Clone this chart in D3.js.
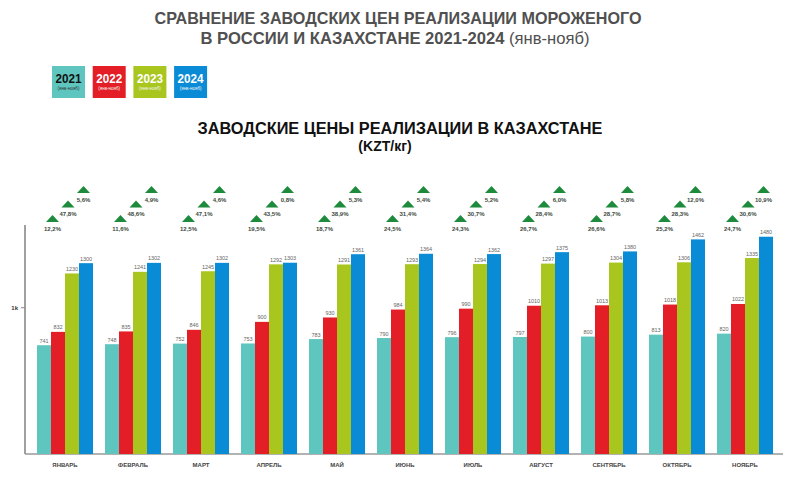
<!DOCTYPE html>
<html>
<head>
<meta charset="utf-8">
<script src="https://cdn.jsdelivr.net/npm/d3@7"></script>
<style>
  body { margin: 0; background: #fff; }
  svg { display: block; font-family: "Liberation Sans", Arial, sans-serif; }
</style>
</head>
<body>
<div id="chart"></div>
<script>
const months = ["ЯНВАРЬ", "ФЕВРАЛЬ", "МАРТ", "АПРЕЛЬ", "МАЙ", "ИЮНЬ", "ИЮЛЬ", "АВГУСТ", "СЕНТЯБРЬ", "ОКТЯБРЬ", "НОЯБРЬ"];
const years = ["2021", "2022", "2023", "2024"];
const v2021 = [741, 748, 752, 753, 783, 790, 796, 797, 800, 813, 820];
const v2022 = [832, 835, 846, 900, 930, 984, 990, 1010, 1013, 1018, 1022];
const v2023 = [1230, 1241, 1245, 1292, 1291, 1293, 1294, 1297, 1304, 1306, 1335];
const v2024 = [1300, 1302, 1302, 1303, 1361, 1364, 1362, 1375, 1380, 1462, 1480];
// прирост год к году: 22/21, 23/22, 24/23
const g22 = ["12,2%", "11,6%", "12,5%", "19,5%", "18,7%", "24,5%", "24,3%", "26,7%", "26,6%", "25,2%", "24,7%"];
const g23 = ["47,8%", "48,6%", "47,1%", "43,5%", "38,9%", "31,4%", "30,7%", "28,4%", "28,7%", "28,3%", "30,6%"];
const g24 = ["5,6%", "4,9%", "4,6%", "0,8%", "5,3%", "5,4%", "5,2%", "6,0%", "5,8%", "12,0%", "10,9%"];
const yTicks = [1000];
const yTickLabels = ["1k"];

const colors = { "2021": "#5ec6bf", "2022": "#e31e26", "2023": "#a9c61f", "2024": "#0a8bd6" };
const series = [v2021, v2022, v2023, v2024];
const growth = [g22, g23, g24];

const width = 800, height = 500;
const svg = d3.select("#chart").append("svg")
  .attr("width", width)
  .attr("height", height);

// titles (узкий шрифт имитируем через textLength)
const title = svg.append("g").attr("fill", "#505050").attr("font-weight", "bold")
  .attr("text-anchor", "middle");
title.append("text").attr("x", 398).attr("y", 24).attr("font-size", 17)
  .attr("textLength", 487).attr("lengthAdjust", "spacingAndGlyphs")
  .text("СРАВНЕНИЕ ЗАВОДСКИХ ЦЕН РЕАЛИЗАЦИИ МОРОЖЕНОГО");
const t2 = title.append("text").attr("x", 395).attr("y", 44).attr("font-size", 17)
  .attr("textLength", 389).attr("lengthAdjust", "spacingAndGlyphs");
t2.append("tspan").text("В РОССИИ И КАЗАХСТАНЕ 2021-2024 ");
t2.append("tspan").attr("font-weight", "normal").text("(янв-нояб)");

svg.append("text").attr("x", 400).attr("y", 134).attr("text-anchor", "middle")
  .attr("font-size", 16).attr("font-weight", "bold").attr("fill", "#111")
  .attr("textLength", 405).attr("lengthAdjust", "spacingAndGlyphs")
  .text("ЗАВОДСКИЕ ЦЕНЫ РЕАЛИЗАЦИИ В КАЗАХСТАНЕ");
svg.append("text").attr("x", 385).attr("y", 151).attr("text-anchor", "middle")
  .attr("font-size", 14).attr("font-weight", "bold").attr("fill", "#111")
  .text("(KZT/кг)");

// legend
const leg = svg.append("g").selectAll("g").data(years).join("g")
  .attr("transform", (d, i) => `translate(${52 + i * 40.7},66)`);
leg.append("rect").attr("width", 33).attr("height", 32).attr("fill", d => colors[d]);
leg.append("text").attr("x", 16.5).attr("y", 17).attr("text-anchor", "middle")
  .attr("font-size", 12).attr("font-weight", "bold")
  .attr("textLength", 26).attr("lengthAdjust", "spacingAndGlyphs")
  .attr("fill", d => d === "2021" ? "#111" : "#fff").text(d => d);
leg.append("text").attr("x", 16.5).attr("y", 24).attr("text-anchor", "middle")
  .attr("font-size", 4.5).attr("fill", d => d === "2021" ? "#333" : "#f2f2f2")
  .text("(янв-нояб)");

// scales
const x = d3.scaleBand().domain(months).range([31, 779])
  .paddingInner(12 / 68).paddingOuter(6 / 68);
const xs = d3.scaleBand().domain(years).range([0, x.bandwidth()]);
const y = d3.scaleLinear().domain([0, 1560]).range([454, 225]);

// axes
svg.append("line").attr("x1", 25).attr("x2", 25).attr("y1", y(1560)).attr("y2", y(0))
  .attr("stroke", "#a0a0a0").attr("stroke-width", 2);
const yAxis = svg.append("g").attr("transform", "translate(25,0)")
  .call(d3.axisLeft(y).tickValues(yTicks).tickSize(4).tickFormat((d, i) => yTickLabels[i]));
yAxis.select(".domain").remove();
yAxis.selectAll("line").attr("stroke", "#888");
yAxis.selectAll("text").attr("font-size", 6).attr("font-weight", "bold").attr("fill", "#333");

const xAxis = svg.append("g").attr("transform", `translate(0,${y(0)})`)
  .call(d3.axisBottom(x).tickSize(0).tickPadding(9));
xAxis.select(".domain").attr("d", "M25,0H783").attr("stroke", "#999").attr("stroke-width", 1.5);
xAxis.selectAll("text").attr("font-size", 6).attr("font-weight", "bold").attr("fill", "#444");

// bars
const rows = [];
months.forEach((m, i) => years.forEach((yr, j) => rows.push({ m, yr, v: series[j][i] })));

svg.append("g").selectAll("rect").data(rows).join("rect")
  .attr("x", d => x(d.m) + xs(d.yr))
  .attr("y", d => y(d.v))
  .attr("width", xs.bandwidth())
  .attr("height", d => y(0) - y(d.v))
  .attr("fill", d => colors[d.yr]);

svg.append("g").selectAll("text").data(rows).join("text")
  .attr("x", d => x(d.m) + xs(d.yr) + xs.bandwidth() / 2)
  .attr("y", d => y(d.v) - 2.5)
  .attr("text-anchor", "middle").attr("font-size", 5.5).attr("fill", "#666")
  .text(d => d.v);

// growth markers
const triBase = [222, 207.5, 193];
const marks = [];
months.forEach((m, i) => growth.forEach((g, k) => marks.push({ m, k, t: g[i] })));
const mk = svg.append("g").selectAll("g").data(marks).join("g")
  .attr("transform", d => `translate(${x(d.m) + (d.k + 1) * 15.5},${triBase[d.k]})`);
mk.append("path").attr("d", "M-6.5,0L0,-7L6.5,0Z").attr("fill", "#1d8a3c");
mk.append("text").attr("y", 8.5).attr("text-anchor", "middle")
  .attr("font-size", 6).attr("font-weight", "bold").attr("fill", "#3d4a40")
  .text(d => d.t);
</script>
</body>
</html>
